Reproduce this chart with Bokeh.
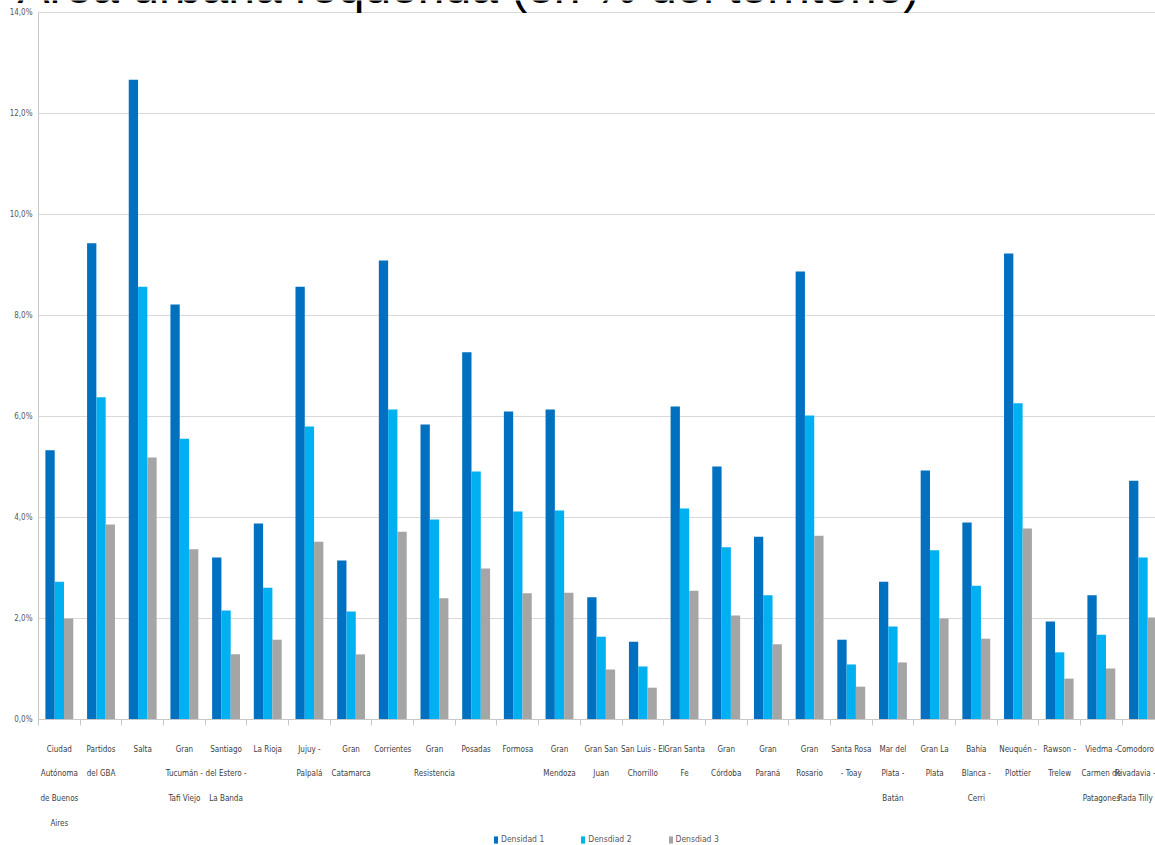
from bokeh.plotting import figure
from bokeh.models import Range1d, FixedTicker, Label, Legend, LegendItem, ColumnDataSource
from bokeh.embed import file_html
from bokeh.resources import INLINE

# ---------------- data ----------------
categories = [
    "Ciudad\nAutónoma\nde Buenos\nAires", "Partidos\ndel GBA", "Salta",
    "Gran\nTucumán -\nTafi Viejo", "Santiago\ndel Estero -\nLa Banda", "La Rioja",
    "Jujuy -\nPalpalá", "Gran\nCatamarca", "Corrientes", "Gran\nResistencia",
    "Posadas", "Formosa", "Gran\nMendoza", "Gran San\nJuan", "San Luis - El\nChorrillo",
    "Gran Santa\nFe", "Gran\nCórdoba", "Gran\nParaná", "Gran\nRosario",
    "Santa Rosa\n- Toay", "Mar del\nPlata -\nBatán", "Gran La\nPlata",
    "Bahía\nBlanca -\nCerri", "Neuquén -\nPlottier", "Rawson -\nTrelew",
    "Viedma -\nCarmen de\nPatagones", "Comodoro\nRivadavia -\nRada Tilly",
]
densidad_1 = [5.33, 9.43, 12.67, 8.22, 3.21, 3.88, 8.57, 3.15, 9.09, 5.84, 7.27, 6.10, 6.14,
              2.42, 1.54, 6.20, 5.01, 3.62, 8.87, 1.58, 2.73, 4.93, 3.90, 9.23, 1.94, 2.46, 4.73]
densidad_2 = [2.73, 6.38, 8.57, 5.56, 2.16, 2.61, 5.80, 2.14, 6.14, 3.96, 4.91, 4.12, 4.14,
              1.64, 1.05, 4.18, 3.41, 2.46, 6.02, 1.09, 1.84, 3.35, 2.65, 6.26, 1.33, 1.68, 3.21]
densidad_3 = [2.00, 3.86, 5.19, 3.37, 1.29, 1.58, 3.52, 1.29, 3.72, 2.40, 2.99, 2.50, 2.51,
              0.99, 0.63, 2.55, 2.06, 1.49, 3.64, 0.65, 1.13, 2.00, 1.60, 3.78, 0.81, 1.01, 2.02]
series_names = ["Densidad 1", "Densdiad 2", "Densdiad 3"]
y_ticks = [0, 2, 4, 6, 8, 10, 12, 14]
y_tick_labels = ["0,0%", "2,0%", "4,0%", "6,0%", "8,0%", "10,0%", "12,0%", "14,0%"]
title_text = "Área urbana requerida (en % del territorio)"

# ---------------- style / layout ----------------
colors = ["#0070C0", "#00B0F0", "#A5A5A5"]
offsets = [-0.223, 0.0, 0.223]
bar_w = 0.223
FONT = "'Liberation Sans Narrow', 'Arial Narrow', 'DejaVu Sans Condensed', sans-serif"
W, H = 1155, 845
PX_X = 41.68     # pixels per category
PX_Y = 50.5      # pixels per 1 %
X0_PX, Y0_PX = 38, 719   # where the axes cross, in canvas pixels

n = len(categories)
centers = [i + 0.5 for i in range(n)]
x_end = (W - X0_PX) / PX_X
y_top = max(y_ticks) + (Y0_PX - max(y_ticks) * PX_Y) / PX_Y

p = figure(width=W, height=H, output_backend="svg", toolbar_location=None,
           x_range=Range1d(-X0_PX / PX_X, x_end),
           y_range=Range1d(-(H - Y0_PX) / PX_Y, y_top),
           min_border_left=0, min_border_right=0, min_border_top=0, min_border_bottom=0)
p.outline_line_color = None
p.background_fill_color = "white"
p.border_fill_color = "white"
p.xgrid.visible = False
p.ygrid.visible = False

# horizontal gridlines from the y axis to the right edge
grid_src = ColumnDataSource(dict(y=y_ticks, x0=[0] * len(y_ticks), x1=[x_end] * len(y_ticks)))
p.segment(x0="x0", x1="x1", y0="y", y1="y", source=grid_src, line_color="#D9D9D9", line_width=1)

src = ColumnDataSource(dict(c=centers, d1=densidad_1, d2=densidad_2, d3=densidad_3))
renderers = []
for j, col in enumerate(["d1", "d2", "d3"]):
    src.data["x%d" % j] = [c + offsets[j] for c in centers]
    r = p.vbar(x="x%d" % j, top=col, width=bar_w, bottom=0, source=src,
               fill_color=colors[j], line_color=None)
    renderers.append(r)

# y axis (drawn at x = 0)
ya = p.yaxis[0]
ya.fixed_location = 0
ya.bounds = (0, max(y_ticks))
ya.ticker = FixedTicker(ticks=y_ticks)
ya.major_label_overrides = {t: lab for t, lab in zip(y_ticks, y_tick_labels)}
ya.major_tick_line_color = None
ya.major_tick_out = 0
ya.major_tick_in = 0
ya.minor_tick_line_color = None
ya.axis_line_color = "#C8C8C8"
ya.major_label_text_font = FONT
ya.major_label_text_font_size = "8px"
ya.major_label_text_color = "#595959"
ya.major_label_standoff = 6

# x axis (drawn at y = 0)
xa = p.xaxis[0]
xa.fixed_location = 0
xa.bounds = (0, x_end)
xa.ticker = FixedTicker(ticks=centers, minor_ticks=list(range(0, n + 1)))
xa.major_label_overrides = {c: lab for c, lab in zip(centers, categories)}
xa.major_tick_line_color = None
xa.major_tick_out = 0
xa.major_tick_in = 0
xa.minor_tick_line_color = "#C8C8C8"
xa.minor_tick_out = 6
xa.minor_tick_in = 0
xa.axis_line_color = "#C8C8C8"
xa.major_label_text_font = FONT
xa.major_label_text_font_size = "8px"
xa.major_label_text_color = "#404040"
xa.major_label_text_line_height = 2.75
xa.major_label_standoff = 19

# title (cut at the top, like the reference)
p.add_layout(Label(x=17, y=859, x_units="screen", y_units="screen", text=title_text,
                   text_font="Liberation Sans", text_font_size="48px", text_color="black",
                   text_baseline="alphabetic"))

legend = Legend(items=[LegendItem(label=series_names[j], renderers=[renderers[j]]) for j in range(3)],
                orientation="horizontal", location=(493, 1),
                glyph_width=5, glyph_height=9, label_standoff=3, label_width=0, spacing=36,
                padding=0, margin=0, border_line_color=None, background_fill_alpha=0,
                label_text_font=FONT, label_text_font_size="8.5px", label_text_color="#595959")
p.add_layout(legend, "center")

open("out.html", "w").write(file_html(p, INLINE))
